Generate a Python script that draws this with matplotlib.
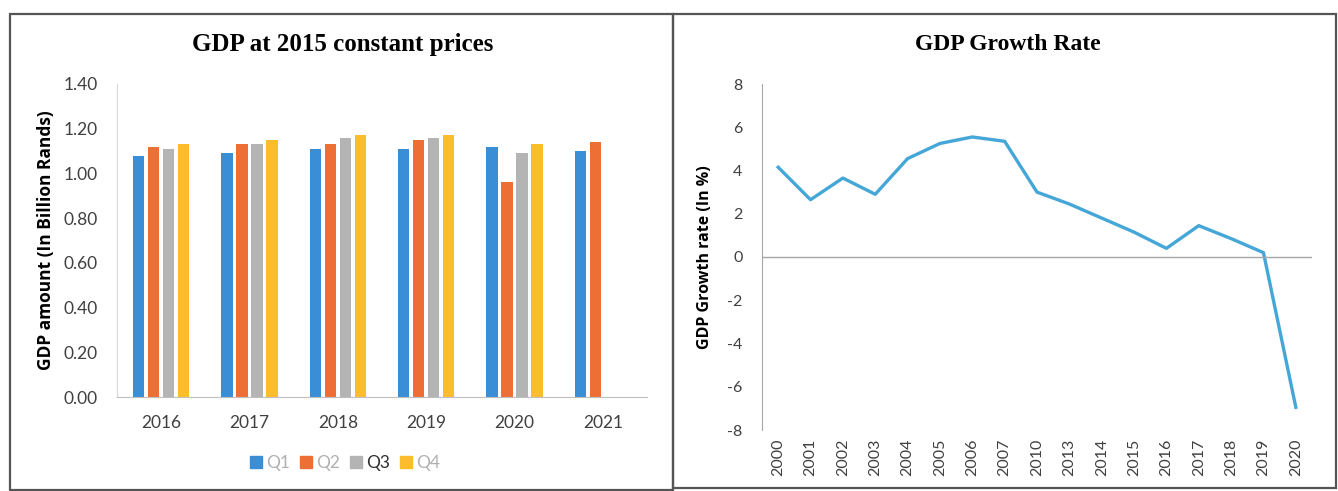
import numpy as np
import matplotlib
matplotlib.use("Agg")
import matplotlib.pyplot as plt
from matplotlib.patches import Rectangle, Patch

# -----------------------------
# DATA
# -----------------------------
years = ["2016", "2017", "2018", "2019", "2020", "2021"]
quarters = ["Q1", "Q2", "Q3", "Q4"]
q1 = [1.08, 1.09, 1.11, 1.11, 1.12, 1.10]
q2 = [1.12, 1.13, 1.13, 1.15, 0.96, 1.14]
q3 = [1.11, 1.13, 1.16, 1.16, 1.09, None]
q4 = [1.13, 1.15, 1.17, 1.17, 1.13, None]

growth_years = ["2000", "2001", "2002", "2003", "2004", "2005", "2006", "2007",
                "2010", "2013", "2014", "2015", "2016", "2017", "2018", "2019", "2020"]
growth_rate = [4.15, 2.65, 3.65, 2.9, 4.55, 5.25, 5.55, 5.35,
               3.0, 2.45, 1.8, 1.15, 0.4, 1.45, 0.85, 0.2, -6.95]

bar_colors = ["#3a8ed6", "#ee6f36", "#b4b4b4", "#fbbd2b"]
legend_text_colors = ["#b0b0b0", "#b0b0b0", "#303030", "#b0b0b0"]
line_color = "#45a6d8"

W, H = 1338, 491
fig = plt.figure(figsize=(W / 100, H / 100), dpi=100)
fig.patch.set_facecolor("white")

tick_font = "Lato"
title_font = "Liberation Serif"


def fx(px):
    return px / W


def fy(py):
    return 1 - py / H


# panel frames
for x0, x1, y1 in [(10, 673, 490), (673, 1336, 488)]:
    fig.add_artist(Rectangle((fx(x0), fy(y1)), fx(x1 - x0), (y1 - 14) / H,
                             transform=fig.transFigure, fill=False,
                             edgecolor="#555555", linewidth=1.6))

# -----------------------------
# LEFT: QUARTERLY GDP BARS
# -----------------------------
ax1 = fig.add_axes([fx(117), fy(397), fx(530), 313 / H])
x = np.arange(len(years))
step, width = 0.17, 0.13
for i, series in enumerate([q1, q2, q3, q4]):
    vals = [np.nan if v is None else v for v in series]
    ax1.bar(x + (i - 1.5) * step, vals, width=width, color=bar_colors[i],
            label=quarters[i])

ax1.set_xlim(-0.5, len(years) - 0.5)
ax1.set_ylim(0, 1.4)
ax1.set_yticks(np.arange(0, 1.41, 0.2))
ax1.set_yticklabels([f"{v:.2f}" for v in np.arange(0, 1.41, 0.2)])
ax1.set_xticks(x)
ax1.set_xticklabels(years)
ax1.tick_params(length=0, labelsize=12.5, labelcolor="#404040")
ax1.tick_params(axis="x", pad=13)
ax1.tick_params(axis="y", pad=14)
for lab in ax1.get_xticklabels() + ax1.get_yticklabels():
    lab.set_fontfamily(tick_font)
for s in ["top", "right"]:
    ax1.spines[s].set_visible(False)
ax1.spines["left"].set_color("#d9d9d9")
ax1.spines["bottom"].set_color("#bfbfbf")
ax1.set_ylabel("GDP amount (In Billion Rands)", fontsize=12.5, fontweight="bold",
               fontfamily="Open Sans", labelpad=6)
fig.text(fx(343), fy(45), "GDP at 2015 constant prices", ha="center", va="center",
         fontsize=18, fontweight="bold", fontfamily=title_font)

handles = [Patch(color=c) for c in bar_colors]
leg = fig.legend(handles, quarters, loc="center", bbox_to_anchor=(fx(345), fy(463)),
                 ncol=4, frameon=False, handlelength=0.7, handleheight=0.7,
                 handletextpad=0.2, columnspacing=0.6, prop={"family": tick_font, "size": 12.5})
for t, c in zip(leg.get_texts(), legend_text_colors):
    t.set_color(c)

# -----------------------------
# RIGHT: GROWTH RATE LINE
# -----------------------------
ax2 = fig.add_axes([fx(762), fy(430), fx(550), 346 / H])
gx = np.arange(len(growth_years))
ax2.plot(gx, growth_rate, color=line_color, linewidth=2.4)
ax2.axhline(0, color="#a6a6a6", linewidth=1.0)
ax2.set_xlim(-0.5, len(growth_years) - 0.5)
ax2.set_ylim(-8, 8)
ax2.set_yticks(np.arange(-8, 9, 2))
ax2.set_yticklabels([str(v) for v in range(-8, 9, 2)])
ax2.set_xticks(gx)
ax2.set_xticklabels(growth_years, rotation=90)
ax2.tick_params(length=0, labelsize=11.5, labelcolor="#404040")
ax2.tick_params(axis="y", pad=14)
ax2.tick_params(axis="x", pad=6)
for lab in ax2.get_xticklabels() + ax2.get_yticklabels():
    lab.set_fontfamily(tick_font)
for s in ["top", "right", "bottom"]:
    ax2.spines[s].set_visible(False)
ax2.spines["left"].set_color("#a6a6a6")
ax2.set_ylabel("GDP Growth rate (In %)", fontsize=11.5, fontweight="bold",
               fontfamily="Open Sans", labelpad=10)
fig.text(fx(1008), fy(45), "GDP Growth Rate", ha="center", va="center",
         fontsize=17, fontweight="bold", fontfamily=title_font)

plt.savefig("out.png", dpi=100)
plt.close()
